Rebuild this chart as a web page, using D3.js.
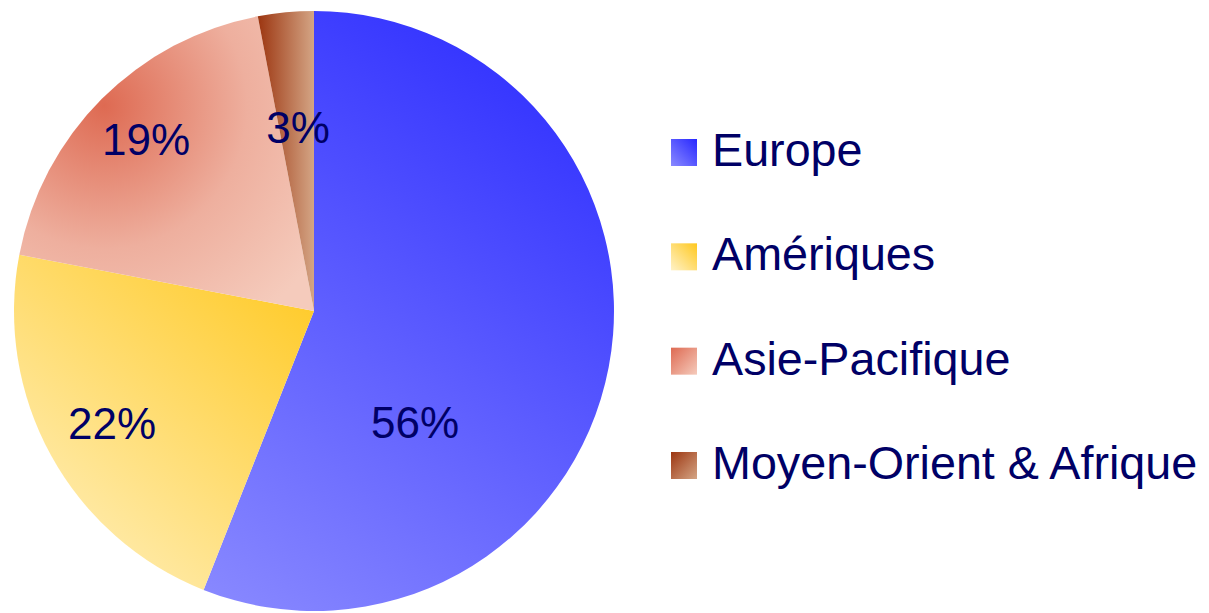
<!DOCTYPE html>
<html>
<head>
<meta charset="utf-8">
<script src="https://cdn.jsdelivr.net/npm/d3@7"></script>
<style>
  html, body { margin: 0; padding: 0; background: #ffffff; }
  svg { display: block; }
</style>
</head>
<body>
<svg id="chart" width="1209" height="613"></svg>
<script>
// Regional split of revenue
const regions = ["Europe", "Amériques", "Asie-Pacifique", "Moyen-Orient & Afrique"];
const shares = [56, 22, 19, 3];
const darkColors = ["#2727ff", "#ffc81e", "#de6a52", "#9c3510"];
const lightColors = ["#8a8aff", "#fff2c8", "#f5cbbc", "#d4a585"];

const cx = 314, cy = 311, R = 300;
const textColor = "#000066";
const fontFamily = "'Liberation Sans', Arial, sans-serif";

const svg = d3.select("#chart");
const defs = svg.append("defs");

const data = regions.map((name, i) => ({ name, value: shares[i], i }));

const pie = d3.pie().value(d => d.value).sort(null);
const arcs = pie(data);
const arc = d3.arc().innerRadius(0).outerRadius(R);

// Bounding box of a slice, relative to the pie centre
function sliceBox(a) {
  const pts = [[0, 0]];
  const steps = 64;
  for (let k = 0; k <= steps; k++) {
    const t = a.startAngle + (a.endAngle - a.startAngle) * k / steps;
    pts.push([R * Math.sin(t), -R * Math.cos(t)]);
  }
  const xs = pts.map(p => p[0]), ys = pts.map(p => p[1]);
  return { x0: d3.min(xs), x1: d3.max(xs), y0: d3.min(ys), y1: d3.max(ys) };
}

// Slice fills: two-colour gradients, dark end placed per slice
arcs.forEach((a, i) => {
  const { x0, x1, y0, y1 } = sliceBox(a);
  const id = "slice-grad-" + i;
  if (i === 2) {
    // Asie-Pacifique: darkest near the upper-left rim, fading inwards
    const g = defs.append("radialGradient")
      .attr("id", id)
      .attr("gradientUnits", "userSpaceOnUse")
      .attr("cx", -210).attr("cy", -205).attr("r", 260)
      .attr("fx", -210).attr("fy", -205);
    g.append("stop").attr("offset", 0).attr("stop-color", darkColors[i]);
    g.append("stop").attr("offset", 0.55).attr("stop-color", "#eeaf9e");
    g.append("stop").attr("offset", 1).attr("stop-color", lightColors[i]);
    return;
  }
  let p;
  if (i === 3) p = [x0, (y0 + y1) / 2, x1, (y0 + y1) / 2];
  else p = [x1, y0, x0, y1];
  const g = defs.append("linearGradient")
    .attr("id", id)
    .attr("gradientUnits", "userSpaceOnUse")
    .attr("x1", p[0]).attr("y1", p[1]).attr("x2", p[2]).attr("y2", p[3]);
  g.append("stop").attr("offset", 0).attr("stop-color", darkColors[i]);
  g.append("stop").attr("offset", 1).attr("stop-color", lightColors[i]);
});

// Legend swatch gradients
const swatchDir = ["tr", "tr", "tl", "tl"];
regions.forEach((r, i) => {
  const d = swatchDir[i];
  const g = defs.append("linearGradient")
    .attr("id", "swatch-grad-" + i)
    .attr("x1", d === "tr" ? 1 : 0).attr("y1", 0)
    .attr("x2", d === "tr" ? 0 : 1).attr("y2", 1);
  g.append("stop").attr("offset", 0).attr("stop-color", darkColors[i]);
  g.append("stop").attr("offset", 1).attr("stop-color", lightColors[i]);
});

// Slices
const pieG = svg.append("g").attr("transform", `translate(${cx},${cy})`);
pieG.selectAll("path.slice")
  .data(arcs)
  .join("path")
  .attr("class", "slice")
  .attr("d", arc)
  .attr("fill", (d, i) => `url(#slice-grad-${i})`);

// Percentage labels
const labelAt = [
  [415, 438],
  [112, 439],
  [146, 155],
  [298, 143]
];
svg.append("g")
  .selectAll("text")
  .data(arcs)
  .join("text")
  .attr("x", (d, i) => labelAt[i][0])
  .attr("y", (d, i) => labelAt[i][1])
  .attr("text-anchor", "middle")
  .attr("font-family", fontFamily)
  .attr("font-size", 44)
  .attr("fill", textColor)
  .text(d => d.data.value + "%");

// Legend
const legendY = d3.scaleLinear().domain([0, regions.length - 1]).range([166, 479]);
const items = svg.append("g")
  .selectAll("g.item")
  .data(regions)
  .join("g")
  .attr("class", "item")
  .attr("transform", (d, i) => `translate(0,${legendY(i)})`);

items.append("rect")
  .attr("x", 671).attr("y", -27)
  .attr("width", 26).attr("height", 27)
  .attr("fill", (d, i) => `url(#swatch-grad-${i})`);

items.append("text")
  .attr("x", 712).attr("y", 0)
  .attr("font-family", fontFamily)
  .attr("font-size", 46.7)
  .attr("fill", textColor)
  .text(d => d);
</script>
</body>
</html>
